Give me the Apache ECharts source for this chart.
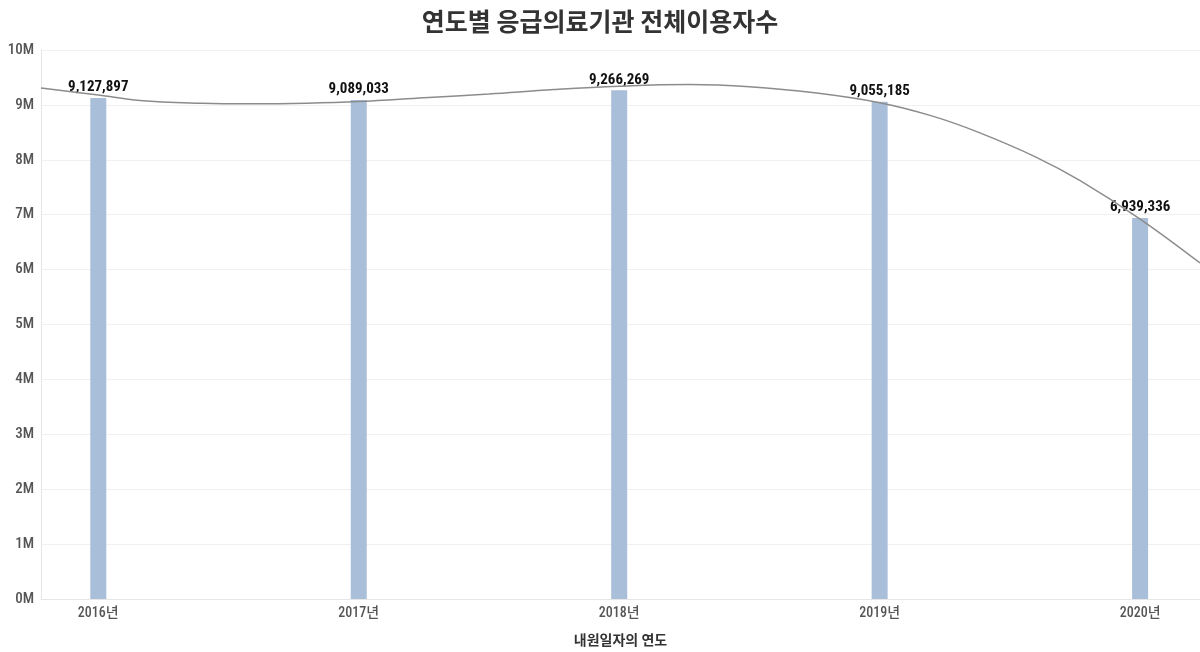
<!DOCTYPE html>
<html><head><meta charset="utf-8">
<script src="https://cdn.jsdelivr.net/npm/echarts@6/dist/echarts.min.js"></script>
<style>html,body{margin:0;padding:0;background:#fff}#c{width:1200px;height:652px}</style>
</head><body><div id="c"></div>
<script>
const years = [2016, 2017, 2018, 2019, 2020];
const users = [9127897, 9089033, 9266269, 9055185, 6939336];
const yTicks = [0, 1e6, 2e6, 3e6, 4e6, 5e6, 6e6, 7e6, 8e6, 9e6, 1e7];
// trend line (year position, value)
const trendX = [2015.78, 2016.0, 2016.16, 2016.4, 2016.58, 2016.8, 2017.0, 2017.25, 2017.5, 2017.75, 2018.0, 2018.27, 2018.5, 2018.75, 2019.0, 2019.2, 2019.38, 2019.6, 2019.77, 2020.0, 2020.23];
const trendY = [9310000, 9180000, 9080000, 9030000, 9020000, 9030000, 9060000, 9130000, 9200000, 9280000, 9340000, 9370000, 9330000, 9220000, 9040000, 8800000, 8500000, 8050000, 7620000, 6920000, 6120000];

const FONT = '"Liberation Sans Narrow", "Roboto Condensed", "DejaVu Sans Condensed", "Noto Sans CJK KR", sans-serif';
const chart = echarts.init(document.getElementById('c'));
chart.setOption({
  animation: false,
  title: {
    text: '연도별 응급의료기관 전체이용자수', left: 'center', top: 4,
    textStyle: { fontFamily: '"Noto Sans CJK KR", sans-serif', fontSize: 25, fontWeight: 'bold', color: '#333' }
  },
  grid: { left: 41, right: 0, top: 50, bottom: 50 },
  xAxis: {
    type: 'value', min: 2015.78, max: 2020.23,
    name: '내원일자의 연도', nameLocation: 'middle', nameGap: 34,
    nameTextStyle: { fontFamily: '"Noto Sans CJK KR", sans-serif', fontSize: 14, fontWeight: 'bold', color: '#333' },
    axisLine: { show: true, lineStyle: { color: '#e6e6e6' } },
    axisTick: { show: false },
    splitLine: { show: false },
    axisLabel: {
      customValues: years, margin: 7,
      formatter: v => v + '년',
      fontFamily: FONT, fontSize: 14, fontWeight: 500, color: '#555'
    }
  },
  yAxis: {
    type: 'value', min: 0, max: 1e7, interval: 1e6,
    axisLine: { show: true, lineStyle: { color: '#e6e6e6' } },
    axisTick: { show: false },
    splitLine: { lineStyle: { color: '#f0f0f0' } },
    axisLabel: {
      margin: 7, formatter: v => (v / 1e6) + 'M',
      fontFamily: FONT, fontSize: 15, fontWeight: 500, color: '#555'
    }
  },
  series: [
    {
      type: 'bar', barWidth: 16,
      data: years.map((y, i) => [y, users[i]]),
      itemStyle: { color: '#a9bed8' },
      label: {
        show: true, position: 'top', distance: 3,
        formatter: p => p.value[1].toLocaleString('en-US'),
        fontFamily: FONT, fontSize: 15, fontWeight: 'bold', color: '#111'
      },
      z: 2
    },
    {
      type: 'line', smooth: 0.4, symbol: 'none',
      data: trendX.map((x, i) => [x, trendY[i]]),
      lineStyle: { color: '#8c8c8c', width: 1.5 },
      z: 3
    }
  ]
});
</script></body></html>
